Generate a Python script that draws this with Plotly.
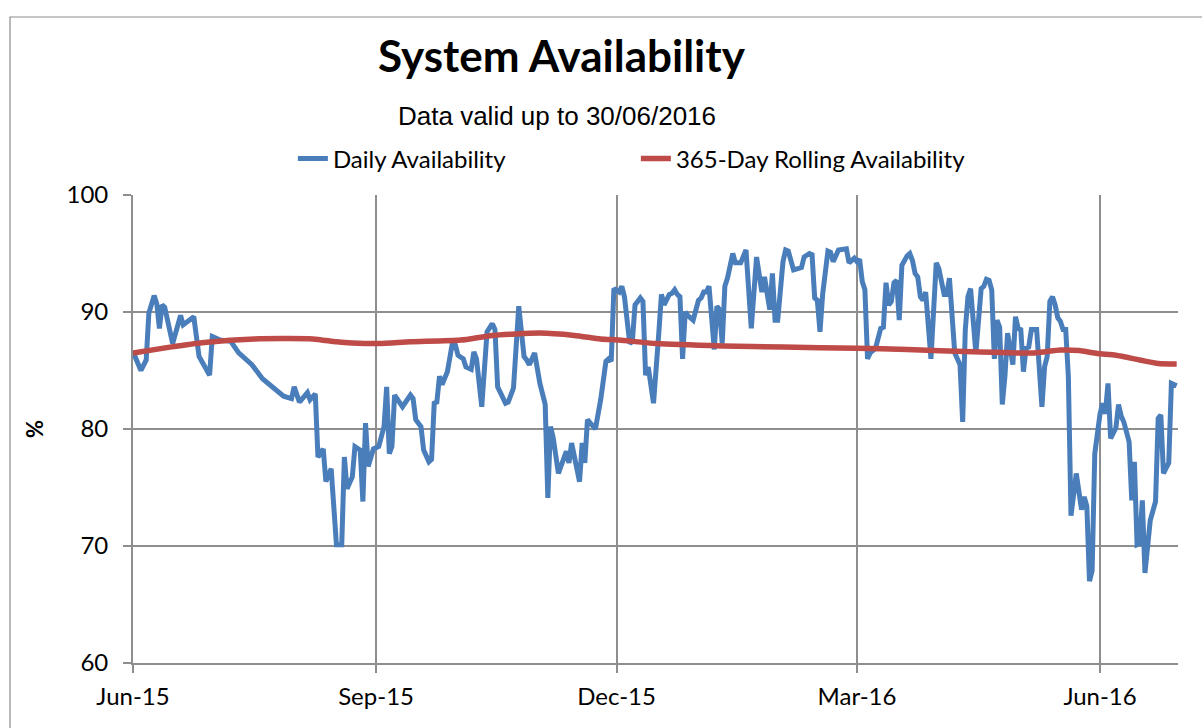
import plotly.graph_objects as go

daily_dates = [
    "2015-06-01", "2015-06-04", "2015-06-06", "2015-06-07", "2015-06-09", "2015-06-10", "2015-06-11",
    "2015-06-12", "2015-06-13", "2015-06-16", "2015-06-19", "2015-06-20", "2015-06-24", "2015-06-26",
    "2015-06-30", "2015-07-01", "2015-07-04", "2015-07-08", "2015-07-11", "2015-07-16", "2015-07-20",
    "2015-07-28", "2015-07-31", "2015-08-01", "2015-08-03", "2015-08-06", "2015-08-07", "2015-08-09",
    "2015-08-10", "2015-08-12", "2015-08-13", "2015-08-15", "2015-08-17", "2015-08-19", "2015-08-20",
    "2015-08-21", "2015-08-23", "2015-08-24", "2015-08-26", "2015-08-27", "2015-08-28", "2015-08-29",
    "2015-08-31", "2015-09-02", "2015-09-04", "2015-09-05", "2015-09-06", "2015-09-07", "2015-09-08",
    "2015-09-11", "2015-09-14", "2015-09-15", "2015-09-16", "2015-09-18", "2015-09-19", "2015-09-21",
    "2015-09-22", "2015-09-23", "2015-09-24", "2015-09-25", "2015-09-26", "2015-09-28", "2015-09-30",
    "2015-10-01", "2015-10-02", "2015-10-04", "2015-10-05", "2015-10-07", "2015-10-08", "2015-10-09",
    "2015-10-11", "2015-10-13", "2015-10-15", "2015-10-16", "2015-10-17", "2015-10-19", "2015-10-20",
    "2015-10-21", "2015-10-23", "2015-10-25", "2015-10-27", "2015-10-28", "2015-10-29", "2015-10-31",
    "2015-11-02", "2015-11-04", "2015-11-05", "2015-11-06", "2015-11-07", "2015-11-09", "2015-11-12",
    "2015-11-13", "2015-11-14", "2015-11-17", "2015-11-18", "2015-11-19", "2015-11-20", "2015-11-23",
    "2015-11-25", "2015-11-27", "2015-11-28", "2015-11-29", "2015-11-30", "2015-12-02", "2015-12-03",
    "2015-12-04", "2015-12-06", "2015-12-07", "2015-12-08", "2015-12-09", "2015-12-10", "2015-12-11",
    "2015-12-12", "2015-12-13", "2015-12-15", "2015-12-17", "2015-12-18", "2015-12-19", "2015-12-21",
    "2015-12-22", "2015-12-23", "2015-12-24", "2015-12-25", "2015-12-26", "2015-12-27", "2015-12-28",
    "2015-12-30", "2016-01-01", "2016-01-02", "2016-01-03", "2016-01-04", "2016-01-05", "2016-01-07",
    "2016-01-08", "2016-01-09", "2016-01-10", "2016-01-11", "2016-01-12", "2016-01-14", "2016-01-15",
    "2016-01-17", "2016-01-19", "2016-01-21", "2016-01-23", "2016-01-25", "2016-01-26", "2016-01-28",
    "2016-01-29", "2016-01-30", "2016-01-31", "2016-02-02", "2016-02-03", "2016-02-04", "2016-02-06",
    "2016-02-07", "2016-02-09", "2016-02-10", "2016-02-12", "2016-02-13", "2016-02-14", "2016-02-15",
    "2016-02-16", "2016-02-17", "2016-02-19", "2016-02-20", "2016-02-21", "2016-02-23", "2016-02-26",
    "2016-02-27", "2016-02-29", "2016-03-01", "2016-03-02", "2016-03-03", "2016-03-04", "2016-03-05",
    "2016-03-06", "2016-03-08", "2016-03-09", "2016-03-10", "2016-03-11", "2016-03-12", "2016-03-13",
    "2016-03-14", "2016-03-15", "2016-03-16", "2016-03-17", "2016-03-18", "2016-03-20", "2016-03-21",
    "2016-03-22", "2016-03-23", "2016-03-24", "2016-03-25", "2016-03-26", "2016-03-27", "2016-03-29",
    "2016-03-31", "2016-04-01", "2016-04-03", "2016-04-04", "2016-04-05", "2016-04-07", "2016-04-09",
    "2016-04-10", "2016-04-11", "2016-04-12", "2016-04-13", "2016-04-15", "2016-04-17", "2016-04-18",
    "2016-04-19", "2016-04-20", "2016-04-21", "2016-04-22", "2016-04-23", "2016-04-24", "2016-04-25",
    "2016-04-26", "2016-04-27", "2016-04-29", "2016-04-30", "2016-05-01", "2016-05-02", "2016-05-03",
    "2016-05-04", "2016-05-05", "2016-05-06", "2016-05-08", "2016-05-09", "2016-05-10", "2016-05-11",
    "2016-05-12", "2016-05-13", "2016-05-14", "2016-05-15", "2016-05-16", "2016-05-17", "2016-05-18",
    "2016-05-19", "2016-05-20", "2016-05-21", "2016-05-23", "2016-05-25", "2016-05-26", "2016-05-27",
    "2016-05-28", "2016-05-29", "2016-05-30", "2016-06-01", "2016-06-02", "2016-06-03", "2016-06-04",
    "2016-06-05", "2016-06-07", "2016-06-08", "2016-06-09", "2016-06-10", "2016-06-12", "2016-06-13",
    "2016-06-14", "2016-06-15", "2016-06-16", "2016-06-17", "2016-06-18", "2016-06-20", "2016-06-21",
    "2016-06-22", "2016-06-23", "2016-06-24", "2016-06-25", "2016-06-26", "2016-06-27", "2016-06-28",
    "2016-06-29", "2016-06-30",
]

daily_values = [
    86.6, 85.0, 85.9, 89.9, 91.4, 90.7, 88.6,
    90.6, 90.4, 87.3, 89.7, 88.9, 89.6, 86.2,
    84.6, 87.9, 87.6, 87.5, 86.5, 85.5, 84.3,
    82.8, 82.6, 83.6, 82.3, 83.1, 82.5, 83.0,
    77.6, 78.3, 75.5, 76.6, 70.1, 70.1, 77.6,
    74.9, 75.9, 78.5, 78.2, 73.8, 80.5, 76.8,
    78.3, 78.5, 80.2, 83.6, 77.9, 78.5, 82.9,
    81.9, 82.9, 82.6, 80.8, 80.2, 78.2, 77.2,
    77.4, 82.2, 82.3, 84.5, 83.8, 84.9, 87.5,
    87.2, 86.3, 86.0, 85.3, 85.1, 86.6, 86.0,
    81.9, 88.3, 89.0, 88.5, 83.6, 82.5, 82.2,
    82.3, 83.5, 90.5, 86.2, 85.9, 85.5, 86.5,
    83.9, 82.1, 74.1, 80.2, 79.3, 76.2, 78.1,
    77.1, 78.8, 75.5, 78.8, 77.1, 80.8, 80.0,
    82.5, 85.8, 86.0, 85.8, 92.0, 91.7, 92.2,
    91.3, 87.3, 87.5, 90.6, 90.9, 91.2, 90.9,
    84.6, 85.3, 82.2, 88.2, 91.5, 90.6, 91.5,
    91.6, 91.9, 91.5, 91.3, 86.0, 90.0, 89.7,
    89.3, 91.0, 91.2, 91.7, 91.7, 92.2, 86.8,
    90.5, 90.2, 87.3, 92.2, 92.9, 95.0, 94.2,
    94.2, 95.3, 88.6, 94.7, 91.7, 93.0, 90.2,
    93.3, 89.3, 89.3, 94.3, 95.3, 95.2, 93.6,
    93.7, 93.8, 94.7, 95.0, 94.9, 91.2, 91.0,
    88.3, 91.5, 95.2, 95.1, 94.3, 95.3, 95.4,
    94.2, 94.6, 94.3, 94.5, 92.6, 91.9, 86.0,
    86.5, 86.9, 87.7, 88.6, 88.7, 92.5, 90.6,
    90.9, 92.5, 92.7, 89.3, 94.0, 94.8, 95.0,
    94.4, 93.3, 93.0, 91.3, 91.0, 91.7, 86.0,
    94.2, 93.7, 91.5, 91.5, 92.9, 86.5, 85.5,
    80.6, 88.5, 91.3, 92.0, 86.5, 92.0, 92.2,
    92.8, 92.7, 91.9, 86.0, 89.3, 88.7, 82.1,
    84.5, 88.2, 85.5, 89.6, 88.6, 88.5, 84.9,
    86.9, 87.0, 88.5, 88.5, 84.5, 81.9, 85.3,
    86.2, 90.9, 91.3, 90.6, 89.5, 89.2, 88.5,
    88.5, 84.5, 72.6, 76.2, 73.1, 74.2, 73.4,
    67.0, 67.9, 77.9, 81.3, 82.2, 81.3, 83.9,
    79.2, 80.1, 82.1, 81.1, 80.6, 78.9, 73.9,
    77.2, 70.1, 70.2, 73.9, 67.7, 72.2, 73.2,
    73.8, 80.9, 81.2, 76.2, 76.6, 77.1, 83.9,
    83.8, 83.7,
]

rolling_dates = [
    "2015-06-01", "2015-06-15", "2015-06-28", "2015-07-17", "2015-08-08", "2015-08-17", "2015-08-23",
    "2015-09-02", "2015-09-14", "2015-10-03", "2015-10-15", "2015-11-02", "2015-11-15", "2015-11-25",
    "2015-12-02", "2015-12-16", "2016-01-10", "2016-02-02", "2016-03-01", "2016-03-20", "2016-04-14",
    "2016-05-07", "2016-05-17", "2016-05-24", "2016-05-31", "2016-06-07", "2016-06-16", "2016-06-23",
    "2016-06-30",
]
rolling_values = [
    86.5, 87.0, 87.4, 87.7, 87.7, 87.45, 87.35,
    87.3, 87.45, 87.6, 88.0, 88.2, 88.0, 87.7,
    87.6, 87.3, 87.1, 87.0, 86.9, 86.8, 86.6,
    86.5, 86.75, 86.7, 86.45, 86.3, 85.9, 85.6,
    85.55,
]

tick_dates = ["2015-06-01", "2015-09-01", "2015-12-01", "2016-03-01", "2016-06-01"]
tick_labels = ["Jun-15", "Sep-15", "Dec-15", "Mar-16", "Jun-16"]
y_ticks = [60, 70, 80, 90, 100]

BLUE = "#4A7EBB"
RED = "#BE4B48"
GRID = "#8E8E8E"
FONT = "Lato, 'Open Sans', sans-serif"

fig = go.Figure()
fig.add_trace(go.Scatter(
    x=daily_dates, y=daily_values, mode="lines", name="Daily Availability",
    line=dict(color=BLUE, width=5),
))
fig.add_trace(go.Scatter(
    x=rolling_dates, y=rolling_values, mode="lines", name="365-Day Rolling Availability",
    line=dict(color=RED, width=5.5, shape="spline", smoothing=0.6),
))

fig.update_layout(
    width=1202, height=728,
    margin=dict(l=133, r=24, t=195, b=65),
    paper_bgcolor="white", plot_bgcolor="white",
    font=dict(family=FONT, size=24, color="black"),
    showlegend=True,
    legend=dict(
        orientation="h", x=0.153, xanchor="left", y=1.077, yanchor="middle",
        font=dict(family=FONT, size=24, color="black"),
        entrywidth=298, entrywidthmode="pixels",
        bgcolor="rgba(0,0,0,0)",
    ),
    annotations=[
        dict(text="<b>System Availability</b>", xref="paper", yref="paper",
             x=(562 - 133) / 1045, y=1 + (195 - 55) / 468, xanchor="center", yanchor="middle",
             showarrow=False, font=dict(family=FONT, size=44, color="black")),
        dict(text="Data valid up to 30/06/2016", xref="paper", yref="paper",
             x=(557 - 133) / 1045, y=1 + (195 - 116) / 468, xanchor="center", yanchor="middle",
             showarrow=False, font=dict(family="Liberation Sans, Arial, sans-serif", size=26, color="black")),
    ],
    shapes=[
        dict(type="rect", xref="paper", yref="paper",
             x0=(10 - 133) / 1045, x1=(1215 - 133) / 1045,
             y0=-(745 - 663) / 468, y1=1 + (195 - 17) / 468,
             line=dict(color="#8C8C8C", width=1.2), fillcolor="rgba(0,0,0,0)", layer="below"),
    ],
)

fig.update_xaxes(
    type="date", range=["2015-06-01", "2016-06-30 12:00"],
    tickmode="array", tickvals=tick_dates, ticktext=tick_labels,
    showgrid=True, gridcolor=GRID, gridwidth=1.8,
    showline=True, linecolor=GRID, linewidth=1.8,
    ticks="outside", ticklen=8, tickcolor=GRID, tickwidth=1.8,
    ticklabelstandoff=3,
    tickfont=dict(family=FONT, size=24, color="black"),
    zeroline=False,
)
fig.update_yaxes(
    range=[60, 100], tickmode="array", tickvals=y_ticks,
    showgrid=True, gridcolor=GRID, gridwidth=1.8,
    showline=True, linecolor=GRID, linewidth=1.8,
    ticks="outside", ticklen=8, tickcolor=GRID, tickwidth=1.8,
    ticklabelstandoff=10,
    tickfont=dict(family=FONT, size=24, color="black"),
    title=dict(text="<b>%</b>", standoff=17, font=dict(family=FONT, size=22, color="black")),
    zeroline=False,
)

fig.write_html("out.html", config={"displayModeBar": False},
               post_script="document.body.style.margin='0';")
